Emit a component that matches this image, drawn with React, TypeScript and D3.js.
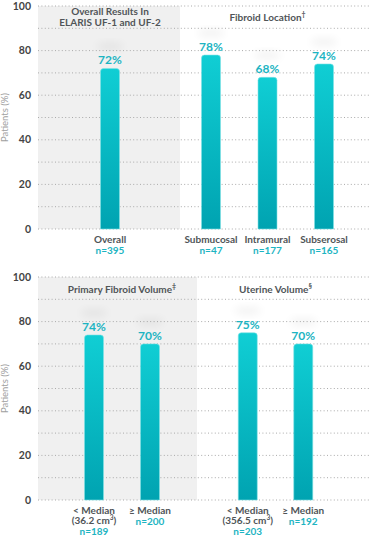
import React, { useEffect, useRef } from "react";
import * as d3 from "d3";

// y axis
const yTicks = [0, 20, 40, 60, 80, 100];
const gridValues = [0, 10, 20, 30, 40, 50, 60, 70, 80, 90, 100];

// top chart
const overallTitle = ["Overall Results In", "ELARIS UF-1 and UF-2"];
const overallCategories = ["Overall"];
const overallValues = [72];
const overallN = ["n=395"];

const locationTitle = ["Fibroid Location"];
const locationCategories = ["Submucosal", "Intramural", "Subserosal"];
const locationValues = [78, 68, 74];
const locationN = ["n=47", "n=177", "n=165"];

// bottom chart
const fibroidVolTitle = ["Primary Fibroid Volume"];
const fibroidVolCategories = ["< Median", "≥ Median"];
const fibroidVolMedian = ["36.2", ""];
const fibroidVolValues = [74, 70];
const fibroidVolN = ["n=189", "n=200"];

const uterineVolTitle = ["Uterine Volume"];
const uterineVolCategories = ["< Median", "≥ Median"];
const uterineVolMedian = ["356.5", ""];
const uterineVolValues = [75, 70];
const uterineVolN = ["n=203", "n=192"];

const FONT = "Lato, 'Open Sans', sans-serif";
const TEAL_TEXT = "#1db4c2";
const GREY_TEXT = "#505558";

type Panel = {
  title: string[];
  mark: string;
  categories: string[];
  values: number[];
  n: string[];
  median?: string[];
  center: number;
  step: number;
  shade?: [number, number];
};

const App = () => {
  const ref = useRef<SVGSVGElement>(null);

  useEffect(() => {
    const width = 370,
      height = 538;
    const svg = d3.select(ref.current);
    svg.selectAll("*").remove();
    svg.attr("width", width).attr("height", height);

    const defs = svg.append("defs");
    const grad = defs
      .append("linearGradient")
      .attr("id", "barGrad")
      .attr("x1", 0)
      .attr("y1", 0)
      .attr("x2", 0)
      .attr("y2", 1);
    grad.append("stop").attr("offset", "0%").attr("stop-color", "#10ced4");
    grad.append("stop").attr("offset", "100%").attr("stop-color", "#00a3b1");
    defs
      .append("filter")
      .attr("id", "blur")
      .attr("x", "-50%")
      .attr("y", "-50%")
      .attr("width", "200%")
      .attr("height", "200%")
      .append("feGaussianBlur")
      .attr("stdDeviation", 4);

    const gridLeft = 38,
      gridRight = 370,
      barWidth = 19,
      fs = 10;

    const drawChart = (yRange: [number, number], panels: Panel[], topLabels: boolean) => {
      const y = d3.scaleLinear().domain([0, 100]).range(yRange);
      const g = svg.append("g");

      // shaded panel backgrounds
      panels.forEach((p) => {
        if (p.shade) {
          g.append("rect")
            .attr("x", p.shade[0])
            .attr("y", y(100))
            .attr("width", p.shade[1] - p.shade[0])
            .attr("height", y(0) - y(100))
            .attr("fill", "#f0f0f0");
        }
      });

      // dotted gridlines
      g.selectAll(".grid")
        .data(gridValues)
        .enter()
        .append("line")
        .attr("x1", gridLeft)
        .attr("x2", gridRight)
        .attr("y1", (d) => y(d))
        .attr("y2", (d) => y(d))
        .attr("stroke", "#aaaaaa")
        .attr("stroke-width", 1)
        .attr("stroke-dasharray", "1,2.4");

      // y tick labels
      g.selectAll(".tick")
        .data(yTicks)
        .enter()
        .append("text")
        .attr("x", 31)
        .attr("y", (d) => y(d))
        .attr("dy", "0.35em")
        .attr("text-anchor", "end")
        .attr("font-family", FONT)
        .attr("font-weight", 700)
        .attr("font-size", 10.5)
        .attr("fill", "#444")
        .text((d) => d);

      // y axis label
      const mid = (y(0) + y(100)) / 2;
      g.append("text")
        .attr("transform", `translate(8,${mid}) rotate(-90)`)
        .attr("text-anchor", "middle")
        .attr("font-family", FONT)
        .attr("font-size", 9.5)
        .attr("fill", "#a0a0a0")
        .text("Patients (%)");

      panels.forEach((p) => {
        const x = d3
          .scalePoint<string>()
          .domain(p.categories)
          .range([
            p.center - (p.step * (p.categories.length - 1)) / 2,
            p.center + (p.step * (p.categories.length - 1)) / 2,
          ]);
        const rows = p.categories.map((c, i) => ({
          c,
          v: p.values[i],
          n: p.n[i],
          m: p.median ? p.median[i] : "",
        }));

        // title
        const titleY = topLabels ? (p.title.length > 1 ? 15 : 21) : y(100) + 16;
        const t = g
          .append("text")
          .attr("text-anchor", "middle")
          .attr("font-family", FONT)
          .attr("font-weight", 700)
          .attr("font-size", fs)
          .attr("fill", GREY_TEXT);
        p.title.forEach((line, i) => {
          t.append("tspan")
            .attr("x", p.center)
            .attr("y", titleY + i * 10.5)
            .text(line);
          if (i === p.title.length - 1 && p.mark) {
            t.append("tspan")
              .attr("font-size", 7)
              .attr("dy", -4)
              .text(p.mark);
          }
        });

        // faint glow above bars
        g.selectAll(null)
          .data(rows)
          .enter()
          .append("ellipse")
          .attr("cx", (d) => x(d.c)!)
          .attr("cy", (d) => y(d.v) - 22)
          .attr("rx", 14)
          .attr("ry", 4)
          .attr("fill", "#000")
          .attr("opacity", 0.05)
          .attr("filter", "url(#blur)");

        // bars with rounded tops
        const r = 3;
        g.selectAll(null)
          .data(rows)
          .enter()
          .append("path")
          .attr("d", (d) => {
            const x0 = x(d.c)! - barWidth / 2,
              x1 = x0 + barWidth,
              top = y(d.v),
              bot = y(0);
            return `M${x0},${bot}V${top + r}Q${x0},${top} ${x0 + r},${top}H${x1 - r}Q${x1},${top} ${x1},${top + r}V${bot}Z`;
          })
          .attr("fill", "url(#barGrad)")
          .attr("stroke", "#7fe2e6")
          .attr("stroke-width", 0.6);

        // value labels
        g.selectAll(null)
          .data(rows)
          .enter()
          .append("text")
          .attr("x", (d) => x(d.c)!)
          .attr("y", (d) => y(d.v) - 4)
          .attr("text-anchor", "middle")
          .attr("font-family", FONT)
          .attr("font-weight", 700)
          .attr("font-size", 12)
          .attr("fill", TEAL_TEXT)
          .text((d) => `${d.v}%`);

        // category labels
        const base = y(0);
        rows.forEach((d) => {
          const cx = x(d.c)!;
          g.append("text")
            .attr("x", cx)
            .attr("y", base + 13.5)
            .attr("text-anchor", "middle")
            .attr("font-family", FONT)
            .attr("font-weight", 700)
            .attr("font-size", fs)
            .attr("fill", GREY_TEXT)
            .text(d.c);
          let nY = base + 24.5;
          if (d.m) {
            const mt = g
              .append("text")
              .attr("x", cx)
              .attr("y", base + 24)
              .attr("text-anchor", "middle")
              .attr("font-family", FONT)
              .attr("font-weight", 700)
              .attr("font-size", fs)
              .attr("fill", GREY_TEXT);
            mt.append("tspan").text(`(${d.m} cm`);
            mt.append("tspan").attr("font-size", 6.5).attr("dy", -4).text("3");
            mt.append("tspan").attr("dy", 4).text(")");
            nY = base + 35;
          }
          g.append("text")
            .attr("x", cx)
            .attr("y", nY)
            .attr("text-anchor", "middle")
            .attr("font-family", FONT)
            .attr("font-weight", 700)
            .attr("font-size", fs)
            .attr("fill", TEAL_TEXT)
            .text(d.n);
        });
      });
    };

    drawChart(
      [229, 6],
      [
        {
          title: overallTitle,
          mark: "",
          categories: overallCategories,
          values: overallValues,
          n: overallN,
          center: 110,
          step: 56,
          shade: [38, 180],
        },
        {
          title: locationTitle,
          mark: "†",
          categories: locationCategories,
          values: locationValues,
          n: locationN,
          center: 267.5,
          step: 56.5,
        },
      ],
      true
    );

    drawChart(
      [500, 277],
      [
        {
          title: fibroidVolTitle,
          mark: "‡",
          categories: fibroidVolCategories,
          values: fibroidVolValues,
          n: fibroidVolN,
          median: fibroidVolMedian,
          center: 122,
          step: 56,
          shade: [38, 197],
        },
        {
          title: uterineVolTitle,
          mark: "§",
          categories: uterineVolCategories,
          values: uterineVolValues,
          n: uterineVolN,
          median: uterineVolMedian,
          center: 275.5,
          step: 55.5,
        },
      ],
      false
    );
  }, []);

  return <svg ref={ref} style={{ position: "absolute", left: 0, top: 0 }} />;
};

export default App;
